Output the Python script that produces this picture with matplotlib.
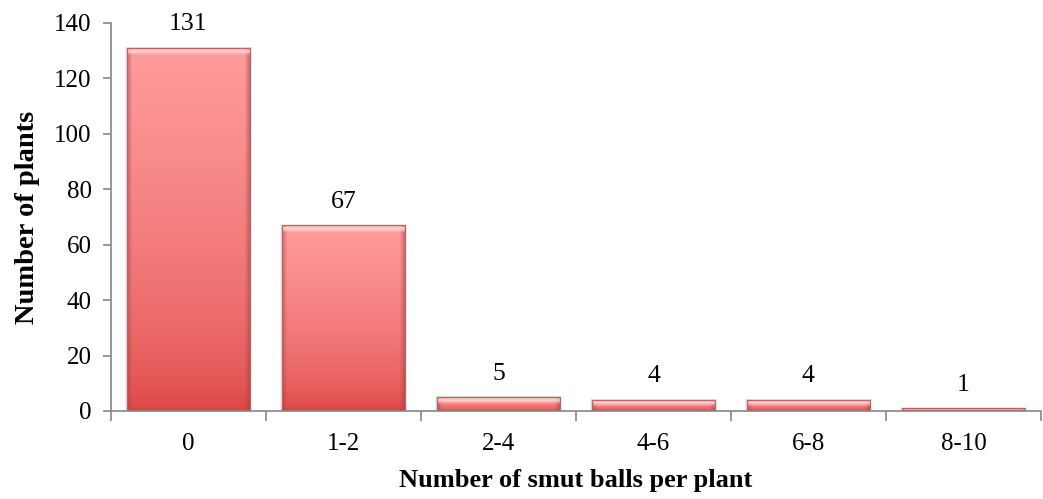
import numpy as np
import matplotlib
matplotlib.use("Agg")
import matplotlib.pyplot as plt
from matplotlib.colors import to_rgb

categories = ["0", "1-2", "2-4", "4-6", "6-8", "8-10"]
plants = [131, 67, 5, 4, 4, 1]

plt.rcParams["font.family"] = ["Liberation Serif", "DejaVu Serif"]

fig = plt.figure(figsize=(10.43, 4.99), dpi=100)
ax = fig.add_axes([0.1064, 0.1764, 0.8916, 0.7776])

x = np.arange(len(categories))
width = 0.79
top_c = np.array(to_rgb("#ff9c9c"))
bot_c = np.array(to_rgb("#dc4040"))
edge_c = np.array(to_rgb("#a04040"))

bars = ax.bar(x, plants, width=width, facecolor="none", edgecolor="none", zorder=3)

ymax = 140
px_per_unit = (0.7776 * 499) / ymax

for rect, v in zip(bars, plants):
    x0, w = rect.get_x(), rect.get_width()
    # soft shadow around the bar
    for grow, a in [(0.012, 0.10), (0.006, 0.15)]:
        ax.add_patch(plt.Rectangle((x0 - grow, -0.3), w + 2 * grow,
                                   v + 0.3 + grow * 40, facecolor="#707070",
                                   alpha=a, edgecolor="none", zorder=2))
    ny, nx = 200, 120
    t = np.linspace(0, 1, ny)[:, None, None]  # 0 bottom -> 1 top
    base = bot_c + (top_c - bot_c) * t ** 0.55
    img = np.repeat(base, nx, axis=1)
    # darker side edges
    u = np.linspace(0, 1, nx)
    side = np.clip(np.minimum(u, 1 - u) / 0.04, 0, 1)[None, :, None]
    img = edge_c + (img - edge_c) * (0.5 + 0.5 * side)
    # light bevel band at the top
    bevel_units = min(7.0 / px_per_unit, v * 0.7)
    yy = np.linspace(0, v, ny)[:, None, None]
    d = (yy - (v - bevel_units)) / max(bevel_units, 1e-6)
    band = np.clip(1 - np.abs(d - 0.55) / 0.55, 0, 1)
    hl = np.array(to_rgb("#ffe0e0"))
    img = img + (hl - img) * (band * 0.85)
    img = np.clip(img, 0, 1)
    im = ax.imshow(img, extent=(x0, x0 + w, 0, v), origin="lower",
                   aspect="auto", interpolation="bilinear", zorder=3)
    im.set_clip_path(rect)
    ax.add_patch(plt.Rectangle((x0, 0), w, v, facecolor="none",
                               edgecolor="#c06060", linewidth=0.8, zorder=4))
    ax.text(x0 + w / 2, v + 4.5, str(v), ha="center", va="bottom",
            fontsize=18.5, zorder=5)

ax.set_xlim(-0.5, len(categories) - 0.5)
ax.set_ylim(0, ymax)
ax.set_yticks(np.arange(0, 141, 20))
ax.set_xticks(x)
ax.set_xticklabels(categories)
ax.set_xticks(np.arange(-0.5, len(categories) - 0.4, 1), minor=True)
ax.tick_params(axis="x", which="major", length=0, labelsize=18, pad=16)
ax.tick_params(axis="x", which="minor", length=7, color="#868686", width=1.2)
ax.tick_params(axis="y", length=6, color="#868686", width=1.2, labelsize=18, pad=8)

for s in ["top", "right"]:
    ax.spines[s].set_visible(False)
for s in ["left", "bottom"]:
    ax.spines[s].set_color("#868686")
    ax.spines[s].set_linewidth(1.2)
    ax.spines[s].set_zorder(6)

ax.set_ylabel("Number of plants", fontsize=20.5, fontweight="bold", labelpad=10)
ax.set_xlabel("Number of smut balls per plant", fontsize=19, fontweight="bold",
              labelpad=10)

fig.savefig("out.png", dpi=100)
